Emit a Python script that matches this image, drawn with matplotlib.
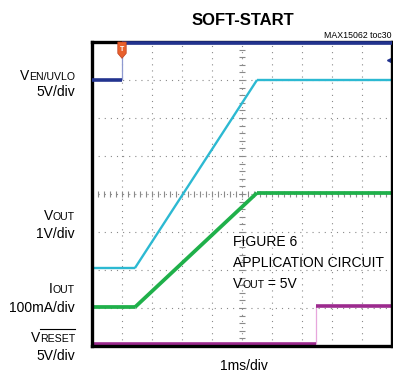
import matplotlib
matplotlib.use("Agg")
import matplotlib.pyplot as plt
import numpy as np
from matplotlib.patches import Polygon
from matplotlib import font_manager

plt.rcParams['font.family'] = ['Liberation Sans', 'DejaVu Sans']

W, H = 393, 377

# Traces in screen divisions (x: 1 ms/div, 10 div; y: 8 div)
ven_t = [0.0, 1.0, 1.0, 10.0]
ven_v = [7.0, 7.0, 7.97, 7.97]
vout_t = [0.0, 1.43, 5.5, 10.0]
vout_v = [2.05, 2.05, 7.0, 7.0]
iout_t = [0.0, 1.43, 5.5, 10.0]
iout_v = [1.02, 1.02, 4.03, 4.03]
rst_t = [0.0, 7.47, 7.47, 10.0]
rst_v = [0.06, 0.06, 1.05, 1.05]

trig_t = 1.0
trig_level = 7.53

title = "SOFT-START"
tag = "MAX15062 toc30"
xlabel = "1ms/div"

names = {f.name for f in font_manager.fontManager.ttflist}
narrow = 'Liberation Sans Narrow' if 'Liberation Sans Narrow' in names else 'Liberation Sans'

fig = plt.figure(figsize=(W / 100, H / 100), dpi=100)
ax = fig.add_axes([92 / W, 31 / H, 300 / W, 304 / H])
ax.set_xlim(0, 10)
ax.set_ylim(0, 8)
ax.set_xticks(range(11))
ax.set_yticks(range(9))
ax.tick_params(length=0, labelbottom=False, labelleft=False)
ax.grid(True, linestyle=(0, (1, 4.5)), color='#8a8a8a', lw=0.8)
for s in ax.spines.values():
    s.set_linewidth(2.4)
    s.set_color('black')
    s.set_zorder(6)

# minor ticks along the centre graticule lines
mx = np.arange(0, 10.01, 0.2)
my = np.arange(0, 8.01, 0.2)
ax.plot(mx, np.full_like(mx, 4.0), ls='none', marker='|', ms=5, mew=0.8, color='#8a8a8a')
ax.plot(np.full_like(my, 5.0), my, ls='none', marker='_', ms=5, mew=0.8, color='#8a8a8a')


def trace(t, v, color, thin_color, lw, z=4):
    for i in range(len(t) - 1):
        if t[i] == t[i + 1]:
            ax.plot(t[i:i + 2], v[i:i + 2], color=thin_color, lw=0.9,
                    solid_capstyle='butt', zorder=3)
        else:
            ax.plot(t[i:i + 2], v[i:i + 2], color=color, lw=lw,
                    solid_capstyle='butt', zorder=z, clip_on=False)


trace(ven_t, ven_v, '#22338f', '#8f9ad0', 2.6, z=7)
trace(vout_t, vout_v, '#2cb9d2', '#2cb9d2', 1.7)
trace(iout_t, iout_v, '#1fb04a', '#1fb04a', 2.7)
trace(rst_t, rst_v, '#9c2a8e', '#e7a6dc', 2.6)

# trigger position marker
tx = trig_t
mk = Polygon([[tx - 0.14, 8.0], [tx + 0.14, 8.0], [tx + 0.14, 7.7],
              [tx, 7.57], [tx - 0.14, 7.7]], closed=True,
             facecolor='#e8602c', edgecolor='#c04020', lw=0.5,
             zorder=8, clip_on=False)
ax.add_patch(mk)
ax.text(tx, 7.8, "T", color='white', fontsize=5, ha='center', va='center',
        fontweight='bold', zorder=9)
ax.plot([9.94], [trig_level], marker='<', ms=5, color='#22338f',
        ls='none', zorder=5, clip_on=False)

fig.canvas.draw()
renderer = fig.canvas.get_renderer()


def fx(x):
    return x / W


def fy(y):
    return 1 - y / H


def caps_label(xr, yb, parts, ha='right'):
    """parts: list of (text, size); drawn left-to-right on one baseline."""
    widths = []
    texts = []
    for txt, size in parts:
        t = fig.text(0, 0, txt, fontsize=size, va='baseline', ha='left')
        widths.append(t.get_window_extent(renderer).width)
        texts.append(t)
    total = sum(widths)
    x0 = xr - total if ha == 'right' else xr
    cur = x0
    for t, w in zip(texts, widths):
        t.set_position((fx(cur), fy(yb)))
        cur += w
    return texts, x0, widths


caps_label(75, 80, [("V", 10), ("EN/UVLO", 7.6)])
caps_label(75, 96, [("5V/div", 10)])
caps_label(75, 220, [("V", 10), ("OUT", 7.6)])
caps_label(75, 238, [("1V/div", 10)])
caps_label(75, 293, [("I", 10), ("OUT", 7.6)])
caps_label(75, 312, [("100mA/div", 10)])
texts, x0, ws = caps_label(75, 342, [("V", 10), ("RESET", 7.6)])
fig.add_artist(plt.Line2D([fx(x0 + ws[0]), fx(x0 + ws[0] + ws[1])],
                          [fy(328.5), fy(328.5)], color='black', lw=0.8))
caps_label(75, 360, [("5V/div", 10)])

caps_label(233, 246, [("FIGURE 6", 10)], ha='left')
caps_label(233, 267, [("APPLICATION CIRCUIT", 10)], ha='left')
caps_label(233, 288, [("V", 10), ("OUT", 7.6), (" = 5V", 10)], ha='left')

fig.text(fx(243), fy(25), title, fontsize=14 if narrow != 'Liberation Sans' else 12,
         fontweight='bold', family=[narrow, 'DejaVu Sans'],
         ha='center', va='baseline')
fig.text(fx(391), fy(38), tag, fontsize=6.3, ha='right', va='baseline',
         family=[narrow, 'DejaVu Sans'])
fig.text(fx(244), fy(370), xlabel, fontsize=10, ha='center', va='baseline')

fig.savefig("out.png", dpi=100)
